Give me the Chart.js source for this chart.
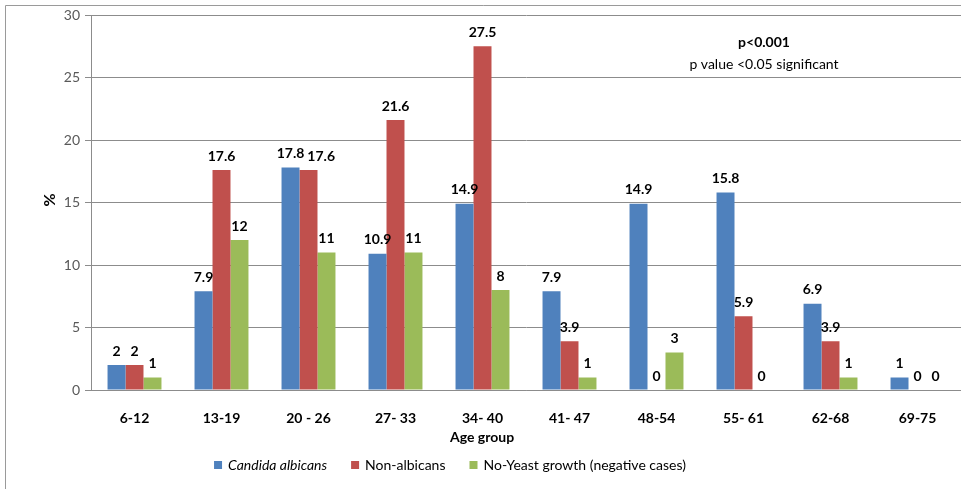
<!DOCTYPE html>
<html lang="en">
<head>
<meta charset="UTF-8">
<title>Yeast by age group</title>
<script src="https://cdn.jsdelivr.net/npm/chart.js"></script>
<style>
    body { margin: 0; background: #fff; }
    #wrap { width: 961px; height: 489px; position: relative; }
</style>
</head>
<body>
<div id="wrap"><canvas id="chart"></canvas></div>
<script>
// data
const ageGroups = ["6-12", "13-19", "20 - 26", "27- 33", "34- 40", "41- 47", "48-54", "55- 61", "62-68", "69-75"];
const candida = [2, 7.9, 17.8, 10.9, 14.9, 7.9, 14.9, 15.8, 6.9, 1];
const nonAlbicans = [2, 17.6, 17.6, 21.6, 27.5, 3.9, 0, 5.9, 3.9, 0];
const noYeast = [1, 12, 11, 11, 8, 1, 3, 0, 1, 0];
const seriesNames = ["Candida albicans", "Non-albicans", "No-Yeast growth (negative cases)"];
const colors = ["#4F81BD", "#C0504D", "#9BBB59"];

const FONT = "Lato, 'Open Sans', sans-serif";

// value labels, titles, legend, note
const extras = {
    id: "extras",
    afterDatasetsDraw(chart) {
        const ctx = chart.ctx;
        ctx.save();
        ctx.fillStyle = "#000";
        ctx.font = "bold 14px " + FONT;
        ctx.textAlign = "center";
        ctx.textBaseline = "bottom";
        const n = chart.data.labels.length;
        for (let j = 0; j < n; j++) {
            let prev = null; // last label drawn in this group
            chart.data.datasets.forEach((ds, i) => {
                const bar = chart.getDatasetMeta(i).data[j];
                const txt = String(ds.data[j]);
                const w = ctx.measureText(txt).width;
                let x = bar.x;
                const y = bar.y - 7;
                // push right when it would run into the label on its left at about the same height
                if (prev && Math.abs(prev.y - y) < 14 && x - w / 2 < prev.right + 3) {
                    x = prev.right + 3 + w / 2;
                }
                ctx.fillText(txt, x, y);
                prev = { right: x + w / 2, y: y };
            });
        }
        ctx.restore();
    },
    afterDraw(chart) {
        const ctx = chart.ctx;
        ctx.save();
        // frame
        ctx.strokeStyle = "#9a9a9a";
        ctx.lineWidth = 1;
        ctx.beginPath();
        ctx.moveTo(5.5, 489);
        ctx.lineTo(5.5, 5.5);
        ctx.lineTo(961, 5.5);
        ctx.stroke();

        ctx.fillStyle = "#000";
        ctx.textAlign = "center";
        ctx.textBaseline = "middle";
        ctx.font = "bold 14px " + FONT;
        ctx.fillText("Age group", 482, 437);

        // y title
        ctx.save();
        ctx.translate(50, 200);
        ctx.rotate(-Math.PI / 2);
        ctx.font = "bold 16px " + FONT;
        ctx.fillText("%", 0, 0);
        ctx.restore();

        // note
        ctx.font = "bold 14px " + FONT;
        ctx.fillText("p<0.001", 764, 42);
        ctx.font = "14px " + FONT;
        ctx.fillText("p value <0.05 significant", 764, 64);

        // legend
        const fonts = ["italic 14px " + FONT, "14px " + FONT, "14px " + FONT];
        const box = 8, gap = 6, space = 24;
        let widths = seriesNames.map((n, i) => { ctx.font = fonts[i]; return box + gap + ctx.measureText(n).width; });
        let total = widths.reduce((a, b) => a + b, 0) + space * (seriesNames.length - 1);
        let x = 450 - total / 2;
        const ly = 465;
        ctx.textAlign = "left";
        seriesNames.forEach((n, i) => {
            ctx.fillStyle = colors[i];
            ctx.fillRect(x, ly - box / 2, box, box);
            ctx.fillStyle = "#000";
            ctx.font = fonts[i];
            ctx.fillText(n, x + box + gap, ly);
            x += widths[i] + space;
        });
        ctx.restore();
    }
};

new Chart(document.getElementById("chart"), {
    type: "bar",
    data: {
        labels: ageGroups,
        datasets: [
            { label: seriesNames[0], data: candida, backgroundColor: colors[0] },
            { label: seriesNames[1], data: nonAlbicans, backgroundColor: colors[1] },
            { label: seriesNames[2], data: noYeast, backgroundColor: colors[2] }
        ]
    },
    options: {
        responsive: true,
        maintainAspectRatio: false,
        animation: false,
        layout: { padding: { left: 0, right: 0, top: 15, bottom: 0 } },
        datasets: { bar: { categoryPercentage: 0.62, barPercentage: 1 } },
        plugins: { legend: { display: false }, tooltip: { enabled: false } },
        scales: {
            x: {
                grid: { display: false },
                border: { color: "#8c8c8c" },
                ticks: { color: "#000", font: { family: FONT, size: 14, weight: "bold" }, padding: 12 },
                afterFit(s) { s.height = 99; }
            },
            y: {
                min: 0,
                max: 30,
                grid: { color: "#8c8c8c", tickLength: 6 },
                border: { color: "#8c8c8c" },
                ticks: { stepSize: 5, color: "#595959", font: { family: FONT, size: 14 }, padding: 5 },
                afterFit(s) { s.width = 91; }
            }
        }
    },
    plugins: [extras]
});
</script>
</body>
</html>
